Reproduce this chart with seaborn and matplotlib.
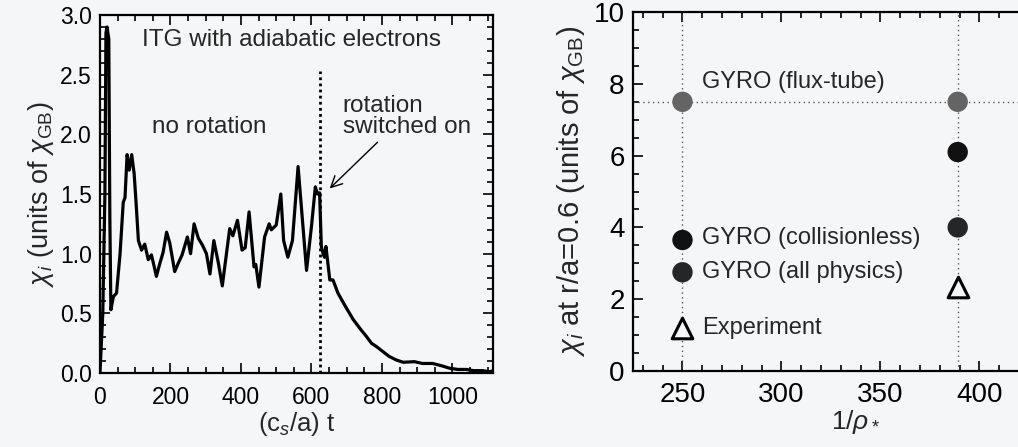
import numpy as np
import pandas as pd
import matplotlib
matplotlib.use("Agg")
import matplotlib.pyplot as plt
from matplotlib.ticker import MultipleLocator, FixedLocator, FormatStrFormatter
import seaborn as sns

# ---------------- data ----------------
time_t = [0, 8, 14, 17, 20, 25, 28, 31, 38, 47, 57, 66, 71, 77, 83, 90, 97, 103, 109,
          118, 127, 137, 146, 154, 160, 170, 179, 189, 198, 212, 222, 233, 248, 257,
          267, 279, 291, 302, 312, 323, 336, 347, 368, 377, 390, 403, 412, 423, 437,
          442, 451, 467, 480, 486, 500, 513, 521, 533, 546, 562, 586, 600, 611, 617,
          623, 628, 633, 637, 641, 652, 661, 675, 694, 708, 718, 741, 755, 770, 785,
          798, 820, 840, 860, 892, 915, 944, 970, 992, 1015, 1039, 1060, 1086, 1105, 1115]
chi_i = [0, 0.5, 1.5, 2.85, 2.9, 2.8, 1.3, 0.53, 0.64, 0.67, 1.0, 1.43, 1.47, 1.83, 1.70,
         1.83, 1.67, 1.4, 1.11, 1.03, 1.08, 0.95, 0.99, 0.89, 0.81, 0.92, 1.01, 1.18,
         1.09, 0.85, 0.92, 0.99, 1.14, 1.0, 1.25, 1.13, 1.07, 1.0, 0.83, 1.11, 0.92,
         0.73, 1.21, 1.15, 1.28, 1.03, 1.05, 1.35, 0.89, 0.91, 0.72, 1.14, 1.25, 1.2,
         1.24, 1.50, 1.11, 0.97, 1.11, 1.73, 0.86, 1.23, 1.56, 1.50, 1.51, 1.06, 1.0,
         0.97, 1.06, 0.78, 0.78, 0.67, 0.57, 0.50, 0.45, 0.36, 0.31, 0.25, 0.22, 0.19,
         0.14, 0.11, 0.09, 0.095, 0.08, 0.08, 0.06, 0.04, 0.03, 0.03, 0.02, 0.02, 0.01, 0.02]
rotation_on_t = 625

inv_rho = [250, 389]
flux_tube = [7.5, 7.5]
collisionless = [3.65, 6.1]
all_physics = [2.75, 4.0]
experiment = [1.2, 2.35]

left_xticks = [0, 200, 400, 600, 800, 1000]
right_xticks = [250, 300, 350, 400]

# ---------------- style ----------------
sns.set_theme(style="ticks")
plt.rcParams["font.family"] = ["Liberation Sans", "DejaVu Sans"]
plt.rcParams["mathtext.fontset"] = "custom"
plt.rcParams["mathtext.rm"] = "Liberation Sans"
plt.rcParams["mathtext.it"] = "Liberation Sans:italic"
plt.rcParams["mathtext.sf"] = "Liberation Sans"

bg = "#f5f6f7"
fig = plt.figure(figsize=(10.18, 4.47), dpi=100, facecolor=bg)
ax1 = fig.add_axes([0.0982, 0.1655, 0.3861, 0.8009])
ax2 = fig.add_axes([0.6218, 0.170, 0.4376, 0.803])

for ax in (ax1, ax2):
    ax.set_facecolor(bg)
    for s in ax.spines.values():
        s.set_linewidth(1.6)
        s.set_color("black")
    ax.tick_params(which="both", direction="in", top=True, right=True,
                   colors="black", width=1.2)
    ax.tick_params(which="major", length=7)
    ax.tick_params(which="minor", length=4)

# ---------- left panel ----------
df1 = pd.DataFrame({"t": time_t, "chi": chi_i})
sns.lineplot(data=df1, x="t", y="chi", ax=ax1, color="black", lw=2.3, sort=False)
ax1.plot([rotation_on_t, rotation_on_t], [0, 2.53], ls=(0, (1, 1.2)), color="black", lw=2)
ax1.set_xlim(0, 1115)
ax1.set_ylim(0, 3.0)
ax1.xaxis.set_major_locator(FixedLocator(left_xticks))
ax1.xaxis.set_minor_locator(MultipleLocator(50))
ax1.yaxis.set_major_locator(MultipleLocator(0.5))
ax1.yaxis.set_minor_locator(MultipleLocator(0.1))
ax1.yaxis.set_major_formatter(FormatStrFormatter("%.1f"))
ax1.tick_params(axis="both", labelsize=16.5)
ax1.tick_params(axis="x", pad=9)
ax1.tick_params(axis="y", pad=6)
ax1.set_xlabel(r"(c$_s$/a) t", fontsize=18.5, labelpad=1)
ax1.set_ylabel(r"$\chi_i$ (units of $\chi_{\rm GB}$)", fontsize=19.5, labelpad=3)
ax1.text(119, 2.79, "ITG with adiabatic electrons", fontsize=17.5, va="center", ha="left")
ax1.text(147, 2.06, "no rotation", fontsize=17.5, va="center", ha="left")
ax1.text(689, 2.33, "rotation\nswitched on", fontsize=17.5, va="top", ha="left",
         linespacing=0.95)
ax1.annotate("", xy=(646, 1.53), xytext=(793, 1.95),
             arrowprops=dict(arrowstyle="->", color="black", lw=1.0,
                             mutation_scale=20))

# ---------- right panel ----------
ax2.axhline(7.5, ls=(0, (1, 2.5)), color="#555555", lw=1.0, zorder=1)
for xv in inv_rho:
    ax2.axvline(xv, ls=(0, (1, 2.5)), color="#555555", lw=1.0, zorder=1)

df_ft = pd.DataFrame({"x": inv_rho, "y": flux_tube})
df_cl = pd.DataFrame({"x": inv_rho, "y": collisionless})
df_ap = pd.DataFrame({"x": inv_rho, "y": all_physics})
df_ex = pd.DataFrame({"x": inv_rho, "y": experiment})
sns.scatterplot(data=df_ft, x="x", y="y", ax=ax2, color="#646464", s=215,
                edgecolor="none", zorder=3)
sns.scatterplot(data=df_cl, x="x", y="y", ax=ax2, color="#111111", s=215,
                edgecolor="none", zorder=3)
sns.scatterplot(data=df_ap, x="x", y="y", ax=ax2, color="#262626", s=215,
                edgecolor="none", zorder=3)
sns.scatterplot(data=df_ex, x="x", y="y", ax=ax2, marker="^", s=220,
                facecolor=bg, edgecolor="black", linewidth=2.2, zorder=3)

ax2.text(260, 8.05, "GYRO (flux-tube)", fontsize=17, va="center", ha="left")
ax2.text(260, 3.7, "GYRO (collisionless)", fontsize=17, va="center", ha="left")
ax2.text(260, 2.75, "GYRO (all physics)", fontsize=17, va="center", ha="left")
ax2.text(260, 1.2, "Experiment", fontsize=17, va="center", ha="left")

ax2.set_xlim(225, 450)
ax2.set_ylim(0, 10)
ax2.xaxis.set_major_locator(FixedLocator(right_xticks))
ax2.xaxis.set_minor_locator(MultipleLocator(10))
ax2.yaxis.set_major_locator(MultipleLocator(2))
ax2.yaxis.set_minor_locator(MultipleLocator(0.5))
ax2.tick_params(axis="both", labelsize=20)
ax2.tick_params(axis="x", pad=8)
ax2.tick_params(axis="y", pad=6)
ax2.set_xlabel(r"1/$\rho_*$", fontsize=19, labelpad=0)
ax2.set_ylabel(r"$\chi_i$ at r/a=0.6 (units of $\chi_{\rm GB}$)", fontsize=21, labelpad=5)

fig.savefig("out.png", dpi=100, facecolor=bg)
